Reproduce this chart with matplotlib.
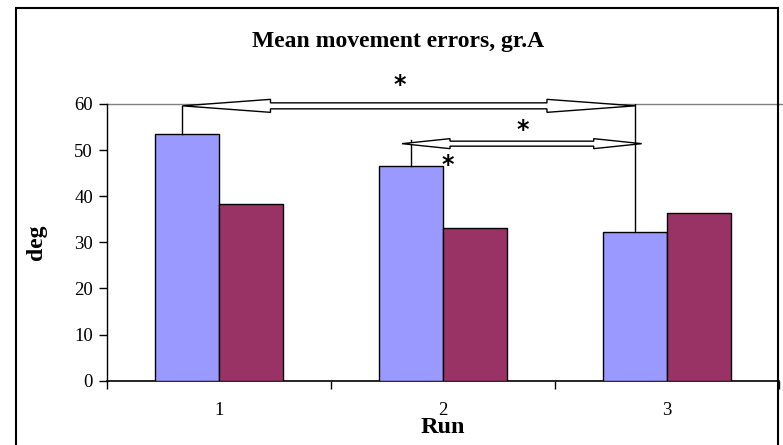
import matplotlib
matplotlib.use("Agg")
import matplotlib.pyplot as plt
from matplotlib.patches import Polygon, Rectangle
from matplotlib.transforms import IdentityTransform
import numpy as np

categories = ["1", "2", "3"]
series_a = [53.5, 46.5, 32.2]
series_b = [38.3, 33.1, 36.3]
y_ticks = [0, 10, 20, 30, 40, 50, 60]
# significance brackets: (from category, to category, level)
brackets = [(0, 2, 59.6), (1, 2, 51.4)]

plt.rcParams['font.family'] = ['Liberation Serif', 'DejaVu Serif']

W, H = 783, 445
fig = plt.figure(figsize=(W / 100, H / 100), dpi=100)
ax = fig.add_axes([107 / W, (H - 380.7) / H, 672 / W, 276.7 / H])

x = np.arange(len(categories))
bw = 0.286
blue = "#9999FF"
maroon = "#993366"
ax.bar(x - bw / 2, series_a, bw, color=blue, edgecolor="black", linewidth=1, zorder=3)
ax.bar(x + bw / 2, series_b, bw, color=maroon, edgecolor="black", linewidth=1, zorder=3)

ax.set_xlim(-0.5, len(categories) - 0.5)
ax.set_ylim(0, 60)
ax.set_yticks(y_ticks)
ax.set_yticklabels([str(t) for t in y_ticks], fontsize=13.5)
ax.set_xticks(x)
ax.set_xticklabels(categories, fontsize=13.5)
ax.tick_params(axis="x", length=0, pad=15)
ax.set_xticks(np.arange(-0.5, len(categories), 1.0), minor=True)
ax.tick_params(axis="x", which="minor", length=6, direction="out", width=1)
ax.tick_params(axis="y", length=6, direction="out", width=1, pad=4)
for s in ["top", "right"]:
    ax.spines[s].set_visible(False)
ax.spines["left"].set_linewidth(1)
ax.spines["bottom"].set_linewidth(1.2)
ax.axhline(60, color="#808080", linewidth=1, zorder=1, clip_on=False)
ax.plot([ax.get_xlim()[1], ax.get_xlim()[1] + 0.02], [60, 60], color="#808080", lw=1, clip_on=False)

ax.set_xlabel("Run", fontsize=17.5, fontweight="bold", labelpad=-1)
ax.set_ylabel("deg", fontsize=17, fontweight="bold", labelpad=20)
fig.text(398 / W, 1 - 41 / H, "Mean movement errors, gr.A", ha="center", va="center",
         fontsize=17, fontweight="bold")

fig.canvas.draw()
T = ax.transData


def block_arrow(x0, x1, y, shaft, head, hlen):
    p0 = T.transform((x0, y))
    p1 = T.transform((x1, y))
    a, b, yc = p0[0], p1[0], p0[1]
    pts = [(a, yc), (a + hlen, yc + head / 2), (a + hlen, yc + shaft / 2),
           (b - hlen, yc + shaft / 2), (b - hlen, yc + head / 2), (b, yc),
           (b - hlen, yc - head / 2), (b - hlen, yc - shaft / 2),
           (a + hlen, yc - shaft / 2), (a + hlen, yc - head / 2)]
    fig.patches.append(Polygon(pts, closed=True, facecolor="white", edgecolor="black",
                               linewidth=1, transform=IdentityTransform(), zorder=5))


xa = x - bw / 2
star_kw = dict(fontsize=17, fontweight="bold", ha="center", va="center", family="DejaVu Sans")
# bracket 1: bar1 blue to bar3 blue
i0, i1, lev = brackets[0]
ax.plot([xa[i0] - 0.02, xa[i0] - 0.02], [series_a[i0], lev], color="black", lw=1, zorder=4)
ax.plot([xa[i1], xa[i1]], [series_a[i1], lev + 0.8], color="black", lw=1, zorder=4)
block_arrow(xa[i0] - 0.02, xa[i1], lev, 6, 13, 88)
ax.text((xa[i0] + xa[i1]) / 2 - 0.05, lev + 4.6, "*", **star_kw)
# bracket 2: bar2 blue to bar3 blue
i0, i1, lev = brackets[1]
ax.plot([xa[i0], xa[i0]], [series_a[i0], lev + 0.8], color="black", lw=1, zorder=4)
block_arrow(xa[i0] - 0.04, xa[i1] + 0.03, lev, 5, 10, 48)
ax.text((xa[i0] + xa[i1]) / 2, lev + 2.9, "*", **star_kw)
ax.text(xa[i0] + 0.165, series_a[i0] + 0.3, "*", **star_kw)

fig.patches.append(Rectangle((16, -10), 777.5 - 16, H - 8 + 10, fill=False, edgecolor="black",
                             linewidth=1.5, transform=IdentityTransform()))

fig.savefig("out.png", dpi=100)
